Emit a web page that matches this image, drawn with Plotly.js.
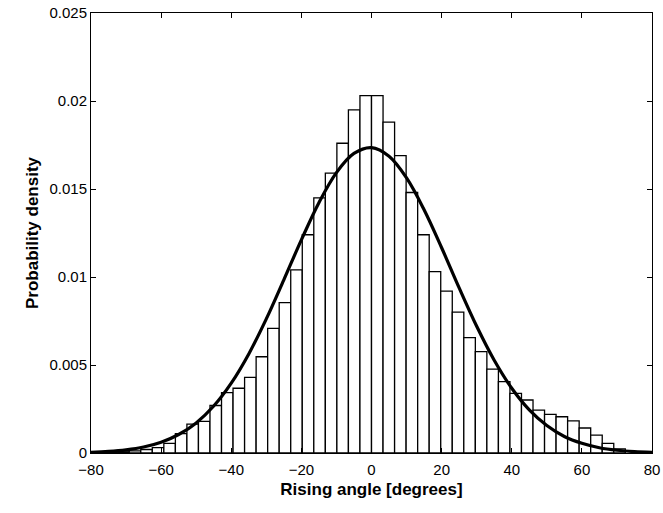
<!DOCTYPE html>
<html>
<head>
<meta charset="utf-8">
<script src="https://cdn.plot.ly/plotly-3.0.1.min.js"></script>
<style>html,body{margin:0;padding:0;background:#fff;}#chart{width:663px;height:513px;}</style>
</head>
<body>
<div id="chart"></div>
<script>
// Histogram bin centres (degrees) and probability densities
const binCenters = [-74.03,-70.74,-67.45,-64.16,-60.87,-57.58,-54.29,-51.00,-47.71,-44.42,-41.13,-37.84,-34.55,-31.26,-27.97,-24.68,-21.39,-18.10,-14.81,-11.52,-8.23,-4.94,-1.65,1.65,4.94,8.23,11.52,14.81,18.10,21.39,24.68,27.97,31.26,34.55,37.84,41.13,44.42,47.71,51.00,54.29,57.58,60.87,64.16,67.45,70.74];
const binDensity = [0.00004,0.00007,0.00012,0.0002,0.0003,0.00055,0.0011,0.00164,0.0018,0.0027,0.00343,0.00368,0.0043,0.00547,0.00708,0.00854,0.0104,0.0124,0.0145,0.0159,0.0176,0.0195,0.0203,0.0203,0.0188,0.0169,0.0148,0.0124,0.0103,0.0092,0.0080,0.00655,0.00576,0.00476,0.00405,0.00339,0.00301,0.00244,0.0022,0.00206,0.00182,0.00142,0.00102,0.00055,0.00023];
const binWidth = 3.29;

// Fitted density curve
const curveX = [-80,-75,-70,-65,-60,-55,-50,-45,-40,-35,-30,-25,-20,-15,-10,-5,0,5,10,15,20,25,30,35,40,45,50,55,60,65,70,75,80];
const curveY = [0.000044,0.000091,0.000181,0.00034,0.00061,0.00105,0.00171,0.00267,0.00397,0.00563,0.00762,0.00984,0.01211,0.01422,0.01593,0.01702,0.01735,0.01686,0.01563,0.01382,0.01166,0.00938,0.0072,0.00527,0.00368,0.00245,0.00156,0.00094,0.00055,0.0003,0.000158,0.000079,0.000038];

const xTicks = [-80,-60,-40,-20,0,20,40,60,80];
const yTicks = [0,0.005,0.01,0.015,0.02,0.025];
const yTickText = ['0','0.005','0.01','0.015','0.02','0.025'];

const traces = [
  {type:'bar', x:binCenters, y:binDensity, width:binWidth,
   marker:{color:'#ffffff', line:{color:'#000000', width:1.3}}, hoverinfo:'x+y'},
  {type:'scatter', mode:'lines', x:curveX, y:curveY,
   line:{color:'#000000', width:3.2, shape:'spline', smoothing:1}}
];

const font = {family:'"Liberation Sans", Arial, sans-serif', color:'#000', size:15};
const layout = {
  width:663, height:513,
  margin:{l:90.5, r:10.5, t:13, b:60},
  paper_bgcolor:'#fff', plot_bgcolor:'#fff',
  showlegend:false, bargap:0,
  font:font,
  xaxis:{range:[-80,80], tickvals:xTicks, ticks:'inside', ticklen:5, tickcolor:'#000',
    showline:true, linecolor:'#000', linewidth:1, mirror:'ticks', showgrid:false, zeroline:false,
    tickfont:{size:15}, ticklabelstandoff:3,
    title:{text:'Rising angle [degrees]', font:{size:17, weight:'bold'}, standoff:6}},
  yaxis:{range:[0,0.025], tickvals:yTicks, ticktext:yTickText, ticks:'inside', ticklen:5, tickcolor:'#000',
    showline:true, linecolor:'#000', linewidth:1, mirror:'ticks', showgrid:false, zeroline:false,
    tickfont:{size:15},
    title:{text:'Probability density', font:{size:17, weight:'bold'}, standoff:6}}
};
Plotly.newPlot('chart', traces, layout, {displayModeBar:false, staticPlot:true});
</script>
</body>
</html>
